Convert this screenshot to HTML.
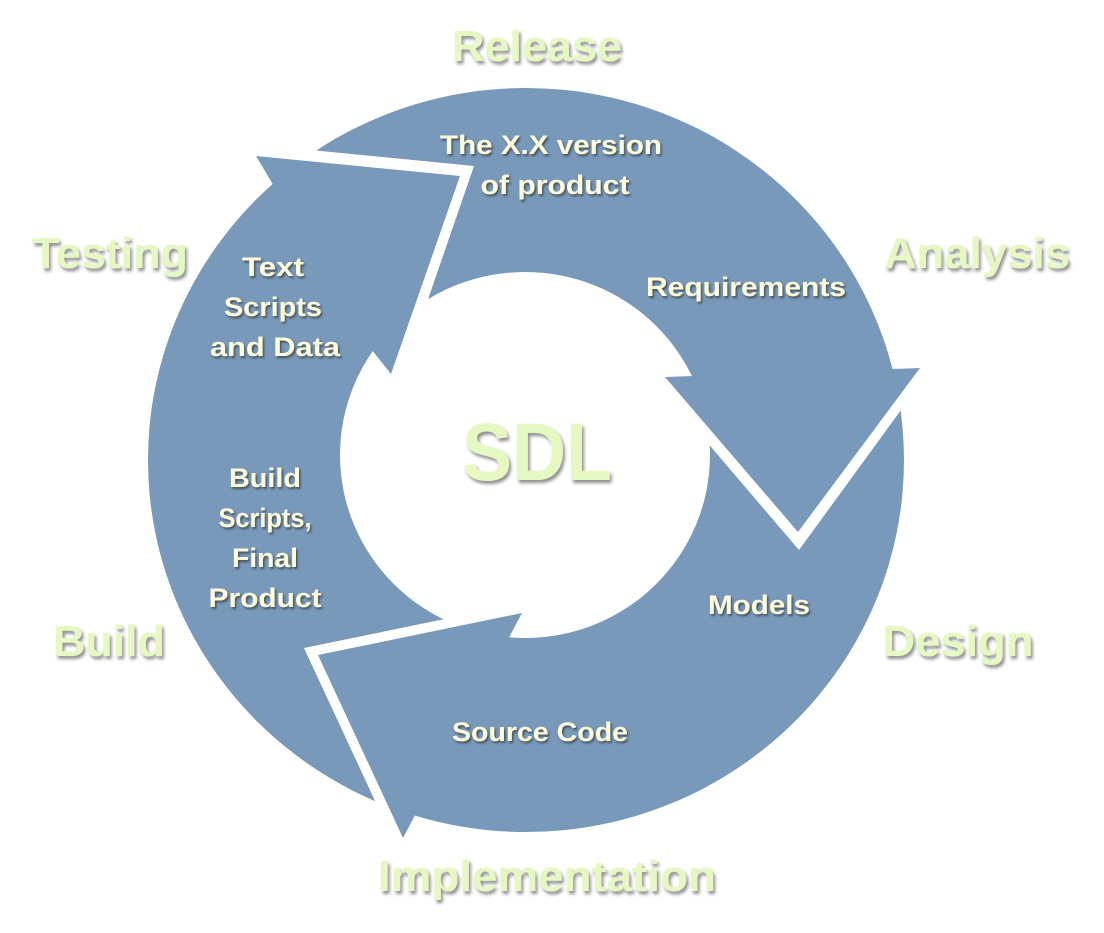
<!DOCTYPE html>
<html><head><meta charset="utf-8"><style>
html,body{margin:0;padding:0;background:#fff;width:1104px;height:933px;overflow:hidden}
svg{display:block}
.o{font-family:"Liberation Sans",sans-serif;font-weight:bold;font-size:44px;fill:#e6f8c2;text-anchor:middle}
.i{font-family:"Liberation Sans",sans-serif;font-weight:bold;font-size:27px;fill:#fcfbdc;text-anchor:middle}
</style></head><body>
<svg width="1104" height="933" viewBox="0 0 1104 933" xmlns="http://www.w3.org/2000/svg">
<defs>
<filter id="sh" x="-10%" y="-10%" width="120%" height="130%"><feDropShadow dx="2" dy="3" stdDeviation="1.5" flood-color="#7a7a7a" flood-opacity="0.85"/></filter>
<filter id="sh2" x="-10%" y="-10%" width="120%" height="130%"><feDropShadow dx="1.5" dy="2" stdDeviation="1" flood-color="#333" flood-opacity="0.7"/></filter>
</defs>
<path fill="#7899b9" fill-rule="evenodd" d="M148,460 A378,372 0 1,0 904,460 A378,372 0 1,0 148,460 Z M340,455 A185,183 0 1,0 710,455 A185,183 0 1,0 340,455 Z"/>
<polygon fill="#fff" points="270,146 474,166 405,366 385,341"/>
<polygon fill="#fff" points="665,393 920,384 799,550"/>
<polygon fill="#fff" points="508,606 304,648 389,831"/>
<polygon fill="#7899b9" points="256,156 460,176 391,374 371,349"/>
<polygon fill="#7899b9" points="665,377 920,368 798,532"/>
<polygon fill="#7899b9" points="522,613 318,655 403,838"/>
<g filter="url(#sh)">
<text class="o" x="537" y="61" textLength="170" lengthAdjust="spacingAndGlyphs">Release</text>
<text class="o" x="110" y="268" textLength="156" lengthAdjust="spacingAndGlyphs">Testing</text>
<text class="o" x="977" y="268" textLength="186" lengthAdjust="spacingAndGlyphs">Analysis</text>
<text class="o" x="109" y="656" textLength="112" lengthAdjust="spacingAndGlyphs">Build</text>
<text class="o" x="958" y="656" textLength="151" lengthAdjust="spacingAndGlyphs">Design</text>
<text class="o" x="547" y="891" textLength="338" lengthAdjust="spacingAndGlyphs">Implementation</text>
<text class="o" x="537" y="480" style="font-size:82px" textLength="150" lengthAdjust="spacingAndGlyphs">SDL</text>
</g>
<g filter="url(#sh2)">
<text class="i" x="551" y="154" textLength="222" lengthAdjust="spacingAndGlyphs">The X.X version</text>
<text class="i" x="555" y="194" textLength="149" lengthAdjust="spacingAndGlyphs">of product</text>
<text class="i" x="746" y="296" textLength="200" lengthAdjust="spacingAndGlyphs">Requirements</text>
<text class="i" x="273" y="276" textLength="62" lengthAdjust="spacingAndGlyphs">Text</text>
<text class="i" x="273" y="316" textLength="98" lengthAdjust="spacingAndGlyphs">Scripts</text>
<text class="i" x="275" y="356" textLength="130" lengthAdjust="spacingAndGlyphs">and Data</text>
<text class="i" x="265" y="487" textLength="72" lengthAdjust="spacingAndGlyphs">Build</text>
<text class="i" x="265" y="527" textLength="93" lengthAdjust="spacingAndGlyphs">Scripts,</text>
<text class="i" x="265" y="567" textLength="66" lengthAdjust="spacingAndGlyphs">Final</text>
<text class="i" x="265" y="607" textLength="113" lengthAdjust="spacingAndGlyphs">Product</text>
<text class="i" x="759" y="614" textLength="102" lengthAdjust="spacingAndGlyphs">Models</text>
<text class="i" x="540" y="741" textLength="176" lengthAdjust="spacingAndGlyphs">Source Code</text>
</g>
</svg>
</body></html>
